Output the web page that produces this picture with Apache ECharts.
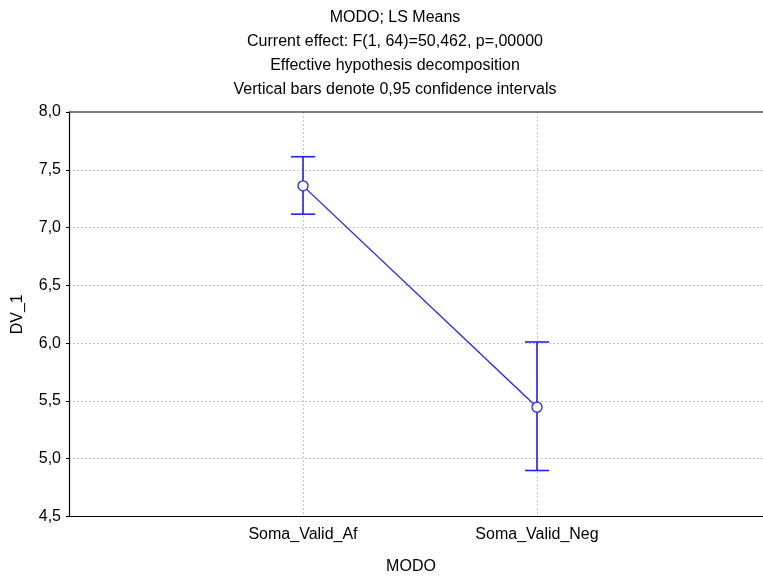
<!DOCTYPE html>
<html><head><meta charset="utf-8">
<script src="https://cdn.jsdelivr.net/npm/echarts@6/dist/echarts.min.js"></script>
<style>html,body{margin:0;padding:0;background:#fff}#c{width:763px;height:579px}</style>
</head><body><div id="c"></div>
<script>
const categories = ['Soma_Valid_Af', 'Soma_Valid_Neg'];
const means = [7.361, 5.446];
const lower = [7.116, 4.898];
const upper = [7.613, 6.010];
const titleLines = ['MODO; LS Means', 'Current effect: F(1, 64)=50,462, p=,00000', 'Effective hypothesis decomposition', 'Vertical bars denote 0,95 confidence intervals'];

const blue = '#1f1fff';
const font = 'Liberation Sans, Arial, sans-serif';
const chart = echarts.init(document.getElementById('c'), null, {renderer: 'canvas'});
const pos = categories.map((c, i) => i + 1);

chart.setOption({
  animation: false,
  backgroundColor: '#fff',
  title: titleLines.map((t, i) => ({
    text: t, left: 390, top: 5 + i * 24, textAlign: 'center',
    textStyle: {fontFamily: font, fontSize: 16, fontWeight: 'normal', color: '#000'}
  })),
  grid: {left: 69, top: 112, width: 702, height: 404.5, containLabel: false, outerBoundsMode: 'none'},
  xAxis: {
    type: 'value', min: 0, max: 3, interval: 1,
    name: 'MODO', nameLocation: 'middle', nameGap: 42,
    nameTextStyle: {fontFamily: font, fontSize: 16, color: '#000', padding: [0, 18, 0, 0]},
    axisLine: {show: true, onZero: false, lineStyle: {color: '#000', width: 1.2}},
    axisTick: {show: false},
    axisLabel: {
      fontFamily: font, fontSize: 16, color: '#000', margin: 10,
      formatter: v => (v >= 1 && v <= categories.length && Number.isInteger(v)) ? categories[v - 1] : ''
    },
    splitLine: {show: true, showMinLine: false, showMaxLine: false, lineStyle: {color: '#c4c4c4', type: [2, 2], width: 1}}
  },
  yAxis: {
    type: 'value', min: 4.5, max: 8.0, interval: 0.5,
    name: 'DV_1', nameLocation: 'middle', nameGap: 43, nameRotate: 90,
    nameTextStyle: {fontFamily: font, fontSize: 16, color: '#000'},
    axisLine: {show: true, lineStyle: {color: '#000', width: 1.2}},
    axisTick: {show: true, inside: false, length: 3, lineStyle: {color: '#000'}},
    axisLabel: {fontFamily: font, fontSize: 16, color: '#000', margin: 8,
      formatter: v => v.toFixed(1).replace('.', ',')},
    splitLine: {show: true, showMinLine: false, showMaxLine: false, lineStyle: {color: '#c4c4c4', type: [2, 2], width: 1}}
  },
  series: [
    {
      type: 'custom',
      data: pos.map((p, i) => [p, lower[i], upper[i]]),
      z: 3,
      renderItem: (params, api) => {
        const x = api.value(0);
        const lo = api.coord([x, api.value(1)]);
        const hi = api.coord([x, api.value(2)]);
        const hw = 12;
        const st = {stroke: blue, lineWidth: 1.6};
        return {type: 'group', children: [
          {type: 'line', shape: {x1: lo[0], y1: lo[1], x2: hi[0], y2: hi[1]}, style: st},
          {type: 'line', shape: {x1: lo[0] - hw, y1: lo[1], x2: lo[0] + hw, y2: lo[1]}, style: st},
          {type: 'line', shape: {x1: hi[0] - hw, y1: hi[1], x2: hi[0] + hw, y2: hi[1]}, style: st}
        ]};
      }
    },
    {
      type: 'line', z: 5,
      data: pos.map((p, i) => [p, means[i]]),
      symbol: 'circle', symbolSize: 10,
      lineStyle: {color: blue, width: 1.3},
      itemStyle: {color: '#fff', borderColor: blue, borderWidth: 1.3}
    }
  ],
  graphic: [{type: 'line', shape: {x1: 69, y1: 112, x2: 771, y2: 112}, style: {stroke: '#000', lineWidth: 1.2}, z: 10}]
});
</script></body></html>
